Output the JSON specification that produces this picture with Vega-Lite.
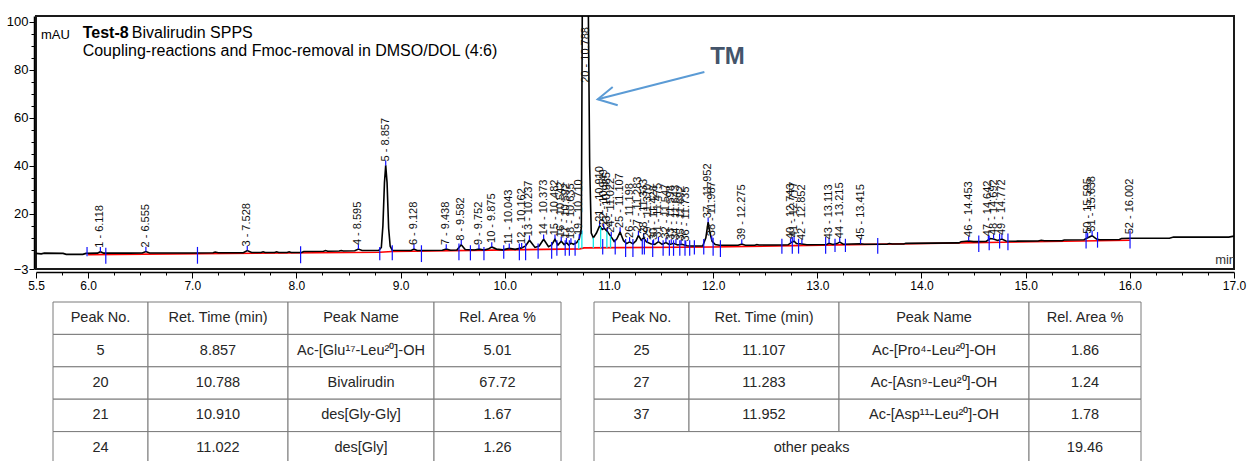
{
"$schema": "https://vega.github.io/schema/vega-lite/v6.json",
"background": "white",
"padding": {"left": 5, "top": 14, "right": 0, "bottom": 0},
"config": {"font": "Liberation Sans", "view": {"stroke": null}},
"spacing": 9,
"datasets": {
"trace": [
{"t":5.5,"v":3.5},{"t":5.55,"v":3.3},{"t":5.58,"v":3.6},{"t":5.76,"v":3.5},{"t":5.79,"v":3.1},{"t":5.95,"v":3.1},{"t":5.98,"v":3.5},{"t":6.09,"v":3.6},{"t":6.118,"v":4.2},{"t":6.15,"v":3.6},{"t":6.4,"v":3.6},{"t":6.52,"v":3.7},{"t":6.555,"v":4.3},{"t":6.59,"v":3.7},{"t":7.0,"v":3.7},{"t":7.2,"v":3.8},{"t":7.22,"v":4.1},{"t":7.25,"v":3.8},{"t":7.49,"v":3.8},{"t":7.528,"v":4.7},{"t":7.57,"v":3.9},{"t":7.66,"v":3.9},{"t":7.68,"v":4.2},{"t":7.7,"v":3.9},{"t":7.79,"v":3.9},{"t":7.81,"v":4.2},{"t":7.83,"v":3.9},{"t":7.91,"v":3.9},{"t":7.93,"v":4.2},{"t":7.95,"v":3.9},{"t":8.05,"v":3.9},{"t":8.07,"v":4.3},{"t":8.26,"v":4.4},{"t":8.28,"v":4.7},{"t":8.3,"v":4.4},{"t":8.41,"v":4.5},{"t":8.43,"v":4.7},{"t":8.45,"v":4.5},{"t":8.56,"v":4.6},{"t":8.595,"v":5.3},{"t":8.63,"v":4.7},{"t":8.79,"v":4.7},{"t":8.815,"v":6.0},{"t":8.83,"v":15},{"t":8.845,"v":33},{"t":8.857,"v":40.2},{"t":8.87,"v":33},{"t":8.885,"v":14},{"t":8.9,"v":6.5},{"t":8.92,"v":4.8},{"t":9.1,"v":4.7},{"t":9.128,"v":5.3},{"t":9.16,"v":4.7},{"t":9.4,"v":4.8},{"t":9.438,"v":5.3},{"t":9.48,"v":4.8},{"t":9.54,"v":4.9},{"t":9.582,"v":7.1},{"t":9.62,"v":5.1},{"t":9.71,"v":4.9},{"t":9.752,"v":5.3},{"t":9.8,"v":4.9},{"t":9.84,"v":5.3},{"t":9.875,"v":6.2},{"t":9.92,"v":5.3},{"t":9.98,"v":5.0},{"t":10.043,"v":5.6},{"t":10.1,"v":5.2},{"t":10.162,"v":5.8},{"t":10.2,"v":6.6},{"t":10.237,"v":9.0},{"t":10.29,"v":6.0},{"t":10.33,"v":6.6},{"t":10.373,"v":9.4},{"t":10.42,"v":6.3},{"t":10.45,"v":7.0},{"t":10.482,"v":9.4},{"t":10.51,"v":7.0},{"t":10.542,"v":8.6},{"t":10.57,"v":7.2},{"t":10.592,"v":8.0},{"t":10.615,"v":7.0},{"t":10.635,"v":7.8},{"t":10.66,"v":7.3},{"t":10.69,"v":8.0},{"t":10.715,"v":9.5},{"t":10.735,"v":14},{"t":10.745,"v":115},{"t":10.8,"v":115},{"t":10.815,"v":40},{"t":10.83,"v":12},{"t":10.85,"v":10},{"t":10.88,"v":12},{"t":10.91,"v":15.0},{"t":10.935,"v":13.5},{"t":10.955,"v":14.0},{"t":10.985,"v":12.5},{"t":11.02,"v":10.5},{"t":11.05,"v":8.5},{"t":11.075,"v":9.5},{"t":11.107,"v":12.4},{"t":11.14,"v":8.8},{"t":11.17,"v":7.6},{"t":11.198,"v":8.3},{"t":11.23,"v":7.5},{"t":11.26,"v":8.8},{"t":11.283,"v":11.0},{"t":11.31,"v":9.0},{"t":11.333,"v":10.0},{"t":11.36,"v":8.3},{"t":11.4,"v":7.5},{"t":11.44,"v":7.3},{"t":11.475,"v":8.4},{"t":11.51,"v":7.3},{"t":11.547,"v":8.0},{"t":11.58,"v":7.2},{"t":11.62,"v":7.7},{"t":11.66,"v":7.0},{"t":11.7,"v":7.3},{"t":11.75,"v":6.7},{"t":11.8,"v":6.6},{"t":11.9,"v":6.6},{"t":11.93,"v":10},{"t":11.952,"v":16.5},{"t":11.97,"v":12},{"t":11.99,"v":8.5},{"t":12.02,"v":7.2},{"t":12.06,"v":6.9},{"t":12.24,"v":6.9},{"t":12.275,"v":7.4},{"t":12.31,"v":6.9},{"t":12.4,"v":6.9},{"t":12.42,"v":7.2},{"t":12.44,"v":7.0},{"t":12.6,"v":7.0},{"t":12.72,"v":7.1},{"t":12.755,"v":8.2},{"t":12.777,"v":8.6},{"t":12.8,"v":7.6},{"t":12.852,"v":7.4},{"t":12.9,"v":7.1},{"t":13.09,"v":7.2},{"t":13.113,"v":7.7},{"t":13.15,"v":7.2},{"t":13.19,"v":7.6},{"t":13.215,"v":8.2},{"t":13.25,"v":7.3},{"t":13.415,"v":7.5},{"t":13.45,"v":7.3},{"t":13.67,"v":7.3},{"t":13.69,"v":7.6},{"t":13.72,"v":7.4},{"t":13.83,"v":7.4},{"t":13.85,"v":7.7},{"t":14.36,"v":7.9},{"t":14.38,"v":8.4},{"t":14.453,"v":8.7},{"t":14.5,"v":8.4},{"t":14.62,"v":8.5},{"t":14.66,"v":9.7},{"t":14.692,"v":9.5},{"t":14.73,"v":8.9},{"t":14.772,"v":9.5},{"t":14.81,"v":8.7},{"t":14.9,"v":8.6},{"t":15.12,"v":8.7},{"t":15.15,"v":9.0},{"t":15.18,"v":8.8},{"t":15.35,"v":8.8},{"t":15.37,"v":9.1},{"t":15.56,"v":9.2},{"t":15.595,"v":10.0},{"t":15.638,"v":10.9},{"t":15.68,"v":9.5},{"t":15.71,"v":9.2},{"t":15.9,"v":9.3},{"t":15.92,"v":9.7},{"t":16.0,"v":9.8},{"t":16.38,"v":9.8},{"t":16.42,"v":10.3},{"t":16.95,"v":10.3},{"t":17.0,"v":10.7}
],
"base": [
{"t":6.0,"v":3.0},{"t":8.8,"v":4.0},{"t":8.92,"v":4.3},{"t":10.72,"v":5.4},{"t":10.76,"v":5.8},{"t":12.0,"v":6.2},{"t":16.0,"v":9.0}
],
"cyan": [
{"t":10.71,"v":5.4,"v2":9.0},{"t":10.74,"v":5.6,"v2":13},{"t":10.85,"v":5.8,"v2":10},{"t":10.92,"v":5.8,"v2":14.5},{"t":10.98,"v":5.8,"v2":12.8},{"t":11.015,"v":5.8,"v2":10.7}
],
"ticks": [
{"t":5.99,"v":2.3,"v2":6.2},{"t":6.17,"v":-0.8,"v2":5.9},{"t":7.05,"v":-0.8,"v2":6.2},{"t":8.04,"v":-0.6,"v2":6.5},{"t":8.8,"v":0.6,"v2":6.2},{"t":8.92,"v":0.6,"v2":6.9},{"t":9.2,"v":-0.1,"v2":6.9},{"t":9.56,"v":0.6,"v2":7.6},{"t":9.67,"v":0.6,"v2":6.9},{"t":9.8,"v":0.6,"v2":6.2},{"t":9.99,"v":1.3,"v2":6.9},{"t":10.14,"v":0.6,"v2":7.6},{"t":10.2,"v":0.6,"v2":7.6},{"t":10.32,"v":1.3,"v2":7.6},{"t":10.45,"v":1.3,"v2":8.3},{"t":10.5,"v":2.5,"v2":9.0},{"t":10.58,"v":2.5,"v2":9.0},{"t":10.62,"v":2.5,"v2":9.0},{"t":10.675,"v":2.5,"v2":9.0},{"t":10.94,"v":3.0,"v2":9.5},{"t":11.06,"v":3.0,"v2":9.5},{"t":11.16,"v":2.0,"v2":9.5},{"t":11.23,"v":2.0,"v2":9.5},{"t":11.32,"v":3.0,"v2":9.5},{"t":11.34,"v":3.0,"v2":9.5},{"t":11.42,"v":2.0,"v2":9.0},{"t":11.52,"v":2.5,"v2":9.0},{"t":11.58,"v":2.5,"v2":9.0},{"t":11.62,"v":2.5,"v2":9.0},{"t":11.68,"v":2.5,"v2":9.0},{"t":11.73,"v":2.5,"v2":9.0},{"t":11.775,"v":2.5,"v2":9.0},{"t":11.82,"v":3.0,"v2":9.0},{"t":11.91,"v":3.0,"v2":9.5},{"t":12.0,"v":2.5,"v2":10.0},{"t":12.07,"v":2.0,"v2":9.0},{"t":12.66,"v":3.4,"v2":9.6},{"t":12.76,"v":3.4,"v2":10.3},{"t":12.82,"v":3.4,"v2":9.6},{"t":13.08,"v":3.4,"v2":10.3},{"t":13.17,"v":4.1,"v2":9.6},{"t":13.27,"v":4.1,"v2":9.6},{"t":13.58,"v":3.4,"v2":9.9},{"t":14.55,"v":4.1,"v2":11.0},{"t":14.65,"v":4.8,"v2":11.0},{"t":14.75,"v":5.5,"v2":11.8},{"t":14.83,"v":4.8,"v2":11.8},{"t":15.58,"v":5.5,"v2":13.1},{"t":15.69,"v":5.9,"v2":12.4},{"t":16.002,"v":5.5,"v2":13.1},
{"t":6.118,"v":4.2,"v2":6.2},{"t":6.555,"v":4.3,"v2":6.3},{"t":7.528,"v":4.7,"v2":6.7},{"t":8.595,"v":5.3,"v2":7.3},{"t":8.857,"v":40.2,"v2":42.2},{"t":9.128,"v":5.3,"v2":7.3},{"t":9.438,"v":5.3,"v2":7.3},{"t":9.582,"v":7.1,"v2":9.1},{"t":9.752,"v":5.3,"v2":7.3},{"t":9.875,"v":6.2,"v2":8.2},{"t":10.043,"v":5.6,"v2":7.6},{"t":10.162,"v":5.8,"v2":7.8},{"t":10.237,"v":9.0,"v2":11.0},{"t":10.373,"v":9.4,"v2":11.4},{"t":10.482,"v":9.4,"v2":11.4},{"t":10.542,"v":8.6,"v2":10.6},{"t":10.592,"v":8.0,"v2":10.0},{"t":10.635,"v":7.8,"v2":9.8},{"t":10.715,"v":9.5,"v2":11.5},{"t":10.91,"v":15.0,"v2":17.0},{"t":10.949,"v":13.8,"v2":15.8},{"t":10.985,"v":12.5,"v2":14.5},{"t":11.022,"v":10.5,"v2":12.5},{"t":11.107,"v":12.4,"v2":14.4},{"t":11.198,"v":8.3,"v2":10.3},{"t":11.283,"v":11.0,"v2":13.0},{"t":11.333,"v":10.0,"v2":12.0},{"t":11.37,"v":8.0,"v2":10.0},{"t":11.428,"v":7.4,"v2":9.4},{"t":11.475,"v":8.4,"v2":10.4},{"t":11.547,"v":8.0,"v2":10.0},{"t":11.598,"v":7.4,"v2":9.4},{"t":11.643,"v":7.5,"v2":9.5},{"t":11.692,"v":7.2,"v2":9.2},{"t":11.737,"v":6.8,"v2":8.8},{"t":11.952,"v":16.5,"v2":18.5},{"t":11.987,"v":9.0,"v2":11.0},{"t":12.275,"v":7.4,"v2":9.4},{"t":12.743,"v":7.8,"v2":9.8},{"t":12.777,"v":8.6,"v2":10.6},{"t":12.852,"v":7.4,"v2":9.4},{"t":13.113,"v":7.7,"v2":9.7},{"t":13.215,"v":8.2,"v2":10.2},{"t":13.415,"v":7.5,"v2":9.5},{"t":14.453,"v":8.7,"v2":10.7},{"t":14.642,"v":9.0,"v2":11.0},{"t":14.692,"v":9.5,"v2":11.5},{"t":14.772,"v":9.5,"v2":11.5},{"t":15.595,"v":10.0,"v2":12.0},{"t":15.638,"v":10.9,"v2":12.9}
],
"peaks": [
{"t":6.118,"v":4.2,"lbl":"1 - 6.118"},{"t":6.555,"v":4.3,"lbl":"2 - 6.555"},{"t":7.528,"v":4.7,"lbl":"3 - 7.528"},{"t":8.595,"v":5.3,"lbl":"4 - 8.595"},{"t":8.857,"v":40.2,"lbl":"5 - 8.857"},{"t":9.128,"v":5.3,"lbl":"6 - 9.128"},{"t":9.438,"v":5.3,"lbl":"7 - 9.438"},{"t":9.582,"v":7.1,"lbl":"8 - 9.582"},{"t":9.752,"v":5.3,"lbl":"9 - 9.752"},{"t":9.875,"v":6.2,"lbl":"10 - 9.875"},{"t":10.043,"v":5.6,"lbl":"11 - 10.043"},{"t":10.162,"v":5.8,"lbl":"12 - 10.162"},{"t":10.237,"v":9.0,"lbl":"13 - 10.237"},{"t":10.373,"v":9.4,"lbl":"14 - 10.373"},{"t":10.482,"v":9.4,"lbl":"15 - 10.482"},{"t":10.542,"v":8.6,"lbl":"16 - 10.542"},{"t":10.592,"v":8.0,"lbl":"17 - 10.592"},{"t":10.635,"v":7.8,"lbl":"18 - 10.635"},{"t":10.715,"v":9.5,"lbl":"19 - 10.710"},{"t":10.775,"v":73,"lbl":"20 - 10.788"},{"t":10.91,"v":15.0,"lbl":"21 - 10.910"},{"t":10.949,"v":13.8,"lbl":"22 - 10.949"},{"t":10.985,"v":12.5,"lbl":"23 - 10.985"},{"t":11.022,"v":10.5,"lbl":"24 - 11.022"},{"t":11.107,"v":12.4,"lbl":"25 - 11.107"},{"t":11.198,"v":8.3,"lbl":"26 - 11.198"},{"t":11.283,"v":11.0,"lbl":"27 - 11.283"},{"t":11.333,"v":10.0,"lbl":"28 - 11.333"},{"t":11.37,"v":8.0,"lbl":"29 - 11.370"},{"t":11.428,"v":7.4,"lbl":"30 - 11.428"},{"t":11.475,"v":8.4,"lbl":"31 - 11.475"},{"t":11.547,"v":8.0,"lbl":"32 - 11.547"},{"t":11.598,"v":7.4,"lbl":"33 - 11.598"},{"t":11.643,"v":7.5,"lbl":"34 - 11.643"},{"t":11.692,"v":7.2,"lbl":"35 - 11.692"},{"t":11.737,"v":6.8,"lbl":"36 - 11.735"},{"t":11.952,"v":16.5,"lbl":"37 - 11.952"},{"t":11.987,"v":9.0,"lbl":"38 - 11.987"},{"t":12.275,"v":7.4,"lbl":"39 - 12.275"},{"t":12.743,"v":7.8,"lbl":"40 - 12.743"},{"t":12.777,"v":8.6,"lbl":"41 - 12.777"},{"t":12.852,"v":7.4,"lbl":"42 - 12.852"},{"t":13.113,"v":7.7,"lbl":"43 - 13.113"},{"t":13.215,"v":8.2,"lbl":"44 - 13.215"},{"t":13.415,"v":7.5,"lbl":"45 - 13.415"},{"t":14.453,"v":8.7,"lbl":"46 - 14.453"},{"t":14.642,"v":9.0,"lbl":"47 - 14.642"},{"t":14.692,"v":9.5,"lbl":"48 - 14.692"},{"t":14.772,"v":9.5,"lbl":"49 - 14.772"},{"t":15.595,"v":10.0,"lbl":"50 - 15.595"},{"t":15.638,"v":10.9,"lbl":"51 - 15.638"},{"t":16.002,"v":9.8,"lbl":"52 - 16.002"}
],
"arrow": [
{"seg":1,"o":0,"t":11.916,"v":79.15},{"seg":1,"o":1,"t":10.892,"v":67.77},
{"seg":2,"o":0,"t":11.036,"v":72.9},{"seg":2,"o":1,"t":10.892,"v":67.77},{"seg":2,"o":2,"t":11.084,"v":65.27}
],
"tbl": [
{"row":0,"c0":0,"c1":1,"cm":0.5,"txt":"Peak No."},{"row":0,"c0":1,"c1":2,"cm":1.5,"txt":"Ret. Time (min)"},{"row":0,"c0":2,"c1":3,"cm":2.5,"txt":"Peak Name"},{"row":0,"c0":3,"c1":4,"cm":3.5,"txt":"Rel. Area %"},
{"row":1,"c0":0,"c1":1,"cm":0.5,"txt":"5"},{"row":1,"c0":1,"c1":2,"cm":1.5,"txt":"8.857"},{"row":1,"c0":2,"c1":3,"cm":2.5,"txt":"Ac-[Glu¹⁷-Leu²⁰]-OH"},{"row":1,"c0":3,"c1":4,"cm":3.5,"txt":"5.01"},
{"row":2,"c0":0,"c1":1,"cm":0.5,"txt":"20"},{"row":2,"c0":1,"c1":2,"cm":1.5,"txt":"10.788"},{"row":2,"c0":2,"c1":3,"cm":2.5,"txt":"Bivalirudin"},{"row":2,"c0":3,"c1":4,"cm":3.5,"txt":"67.72"},
{"row":3,"c0":0,"c1":1,"cm":0.5,"txt":"21"},{"row":3,"c0":1,"c1":2,"cm":1.5,"txt":"10.910"},{"row":3,"c0":2,"c1":3,"cm":2.5,"txt":"des[Gly-Gly]"},{"row":3,"c0":3,"c1":4,"cm":3.5,"txt":"1.67"},
{"row":4,"c0":0,"c1":1,"cm":0.5,"txt":"24"},{"row":4,"c0":1,"c1":2,"cm":1.5,"txt":"11.022"},{"row":4,"c0":2,"c1":3,"cm":2.5,"txt":"des[Gly]"},{"row":4,"c0":3,"c1":4,"cm":3.5,"txt":"1.26"},
{"row":0,"c0":5,"c1":6,"cm":5.5,"txt":"Peak No."},{"row":0,"c0":6,"c1":7,"cm":6.5,"txt":"Ret. Time (min)"},{"row":0,"c0":7,"c1":8,"cm":7.5,"txt":"Peak Name"},{"row":0,"c0":8,"c1":9,"cm":8.5,"txt":"Rel. Area %"},
{"row":1,"c0":5,"c1":6,"cm":5.5,"txt":"25"},{"row":1,"c0":6,"c1":7,"cm":6.5,"txt":"11.107"},{"row":1,"c0":7,"c1":8,"cm":7.5,"txt":"Ac-[Pro⁴-Leu²⁰]-OH"},{"row":1,"c0":8,"c1":9,"cm":8.5,"txt":"1.86"},
{"row":2,"c0":5,"c1":6,"cm":5.5,"txt":"27"},{"row":2,"c0":6,"c1":7,"cm":6.5,"txt":"11.283"},{"row":2,"c0":7,"c1":8,"cm":7.5,"txt":"Ac-[Asn⁹-Leu²⁰]-OH"},{"row":2,"c0":8,"c1":9,"cm":8.5,"txt":"1.24"},
{"row":3,"c0":5,"c1":6,"cm":5.5,"txt":"37"},{"row":3,"c0":6,"c1":7,"cm":6.5,"txt":"11.952"},{"row":3,"c0":7,"c1":8,"cm":7.5,"txt":"Ac-[Asp¹¹-Leu²⁰]-OH"},{"row":3,"c0":8,"c1":9,"cm":8.5,"txt":"1.78"},
{"row":4,"c0":5,"c1":8,"cm":6.817,"txt":"other peaks"},{"row":4,"c0":8,"c1":9,"cm":8.5,"txt":"19.46"}
]
},
"vconcat": [
{
"width": 1198,
"height": 253,
"view": {"stroke": "#1a1a1a", "strokeWidth": 2},
"encoding": {
"x": {"field": "t", "type": "quantitative",
 "scale": {"domain": [5.5, 17], "nice": false, "zero": false},
 "axis": {"title": null, "grid": false, "offset": 3,
  "values": [5.5,5.75,6,6.25,6.5,6.75,7,7.25,7.5,7.75,8,8.25,8.5,8.75,9,9.25,9.5,9.75,10,10.25,10.5,10.75,11,11.25,11.5,11.75,12,12.25,12.5,12.75,13,13.25,13.5,13.75,14,14.25,14.5,14.75,15,15.25,15.5,15.75,16,16.25,16.5,16.75,17],
  "domainColor": "#000", "domainWidth": 1.5, "tickColor": "#000", "tickWidth": 1,
  "tickSize": {"condition": {"test": "abs(datum.value - round(datum.value)) < 0.001 || abs(datum.value - 5.5) < 0.001", "value": 6}, "value": 3},
  "labelExpr": "abs(datum.value - round(datum.value)) < 0.001 || abs(datum.value - 5.5) < 0.001 ? format(datum.value, '.1f') : ''",
  "labelFontSize": 12, "labelColor": "#000", "labelPadding": 2, "labelFlush": false, "labelOverlap": false, "labelBound": false}},
"y": {"field": "v", "type": "quantitative",
  "scale": {"domain": [-3, 102.5], "nice": false, "zero": false},
  "axis": {"title": null, "grid": false, "offset": 2,
   "values": [-3,5,10,15,20,25,30,35,40,45,50,55,60,65,70,75,80,85,90,95,100],
   "domainColor": "#000", "domainWidth": 1.5, "tickColor": "#000",
   "tickSize": {"condition": {"test": "datum.value % 20 == 0 || datum.value == -3", "value": 5}, "value": 3},
   "labelExpr": "datum.value % 20 == 0 || datum.value == -3 ? format(datum.value, 'd') : ''",
   "labelFontSize": 13, "labelColor": "#000", "labelPadding": 1, "labelOverlap": false, "labelBound": false, "labelFlush": false}}
},
"layer": [
{"data": {"name": "base"}, "mark": {"type": "line", "color": "#ff0000", "strokeWidth": 1.6, "clip": true}},
{"data": {"name": "trace"}, "mark": {"type": "line", "color": "#000000", "strokeWidth": 1.6, "clip": true}},
{"data": {"name": "cyan"}, "mark": {"type": "rule", "color": "#10e8e8", "strokeWidth": 1.3, "clip": true},
 "encoding": {"y2": {"field": "v2"}}},
{"data": {"name": "ticks"}, "mark": {"type": "rule", "color": "#1010ff", "strokeWidth": 1.2, "clip": true},
 "encoding": {"y2": {"field": "v2"}}},
{"data": {"name": "peaks"}, "mark": {"type": "text", "angle": 270, "align": "left", "baseline": "middle", "dx": 4, "fontSize": 11, "color": "#111", "clip": true},
 "encoding": {"text": {"field": "lbl"}}},
{"data": {"name": "arrow"}, "mark": {"type": "line", "color": "#5b9bd5", "strokeWidth": 2, "clip": true},
 "encoding": {"detail": {"field": "seg"}, "order": {"field": "o"}}},
{"data": {"values": [{"t": 12.138, "v": 85.4, "txt": "TM"}]}, "mark": {"type": "text", "fontSize": 24, "fontWeight": "bold", "color": "#44546a", "align": "center", "baseline": "middle", "clip": true},
 "encoding": {"text": {"field": "txt"}}},
{"data": {"values": [{"t": 5.948, "v": 95.5, "txt": "Test-8"}]}, "mark": {"type": "text", "fontSize": 16, "fontWeight": "bold", "color": "#000", "align": "left", "baseline": "middle", "clip": true},
 "encoding": {"text": {"field": "txt"}}},
{"data": {"values": [{"t": 6.42, "v": 95.5, "txt": "Bivalirudin SPPS"}, {"t": 5.948, "v": 87.8, "txt": "Coupling-reactions and Fmoc-removal in DMSO/DOL (4:6)"}]}, "mark": {"type": "text", "fontSize": 16, "color": "#000", "align": "left", "baseline": "middle", "clip": true},
 "encoding": {"text": {"field": "txt"}}},
{"data": {"values": [{"t": 5.548, "v": 94.5, "txt": "mAU"}]}, "mark": {"type": "text", "fontSize": 13, "color": "#000", "align": "left", "baseline": "middle", "clip": true},
 "encoding": {"text": {"field": "txt"}}},
{"data": {"values": [{"t": 17.02, "v": 0.8, "txt": "min"}]}, "mark": {"type": "text", "fontSize": 13, "color": "#333", "align": "right", "baseline": "middle", "clip": true},
 "encoding": {"text": {"field": "txt"}}}
]
},
{
"width": 1198,
"height": 162,
"data": {"name": "tbl"},
"layer": [
{"mark": {"type": "rect", "fill": "white", "stroke": "#7a7a7a", "strokeWidth": 1},
 "encoding": {
  "x": {"field": "c0", "type": "quantitative", "scale": {"domain": [0,1,2,3,4,5,6,7,8,9], "range": [17,112,252,398,525,558,653,803,993,1105], "nice": false, "zero": false}, "axis": null},
  "x2": {"field": "c1"},
  "y": {"field": "row", "type": "ordinal", "scale": {"paddingInner": 0, "paddingOuter": 0}, "axis": null}}},
{"mark": {"type": "text", "fontSize": 14.5, "color": "#262626", "align": "center", "baseline": "middle"},
 "encoding": {
  "x": {"field": "cm", "type": "quantitative"},
  "y": {"field": "row", "type": "ordinal"},
  "text": {"field": "txt"}}}
]
}
]
}
